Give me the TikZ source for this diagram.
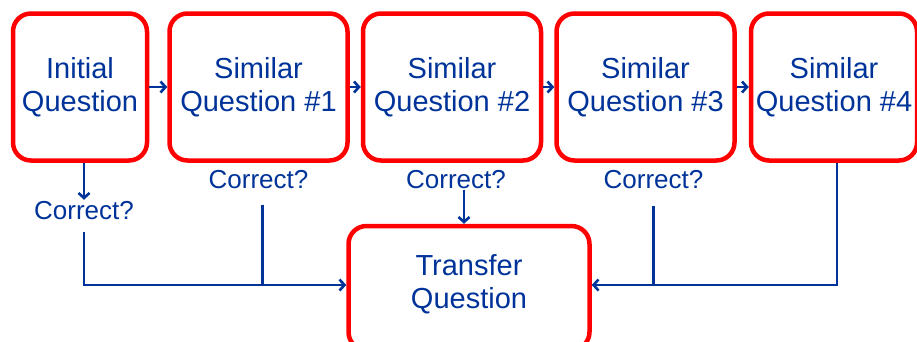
\documentclass[tikz,border=0pt]{standalone}
\usepackage{fontspec}
\setmainfont{Liberation Sans}
\usetikzlibrary{arrows.meta,positioning}
\definecolor{qred}{RGB}{255,0,0}
\definecolor{qblue}{RGB}{0,51,153}
\tikzset{
  qbox/.style={rectangle,rounded corners=18pt,draw=qred,line width=4.5pt,
    fill=white,minimum width=178pt,minimum height=147pt,
    font=\fontsize{29}{33}\selectfont,align=center,text=qblue,inner sep=2pt},
  lbl/.style={font=\fontsize{26}{30}\selectfont,text=qblue,inner sep=1pt},
  arr/.style={-{Straight Barb[length=5pt,width=11pt]},line width=2.6pt,color=qblue},
  ln/.style={line width=2.6pt,color=qblue},
}
\begin{document}
\begin{tikzpicture}[x=1pt,y=-1pt]
  \clip (0,0) rectangle (917,341);
  \fill[white] (0,0) rectangle (917,341);
  \node[qbox,minimum width=134pt] (init) at (80,87) {Initial\\Question};
  \node[qbox,right=18pt of init] (sim1) {Similar\\Question \#1};
  \node[qbox,right=11pt of sim1] (sim2) {Similar\\Question \#2};
  \node[qbox,right=11pt of sim2] (sim3) {Similar\\Question \#3};
  \node[qbox,right=12pt of sim3,minimum width=166pt] (sim4) {Similar\\Question \#4};
  \node[qbox,minimum width=241pt,minimum height=124pt] (trans) at (469,288)
    {Transfer\\Question\rule[-14pt]{0pt}{0pt}};

  \node[lbl,below=37pt of init,xshift=4pt] (ok0) {Correct?};
  \node[lbl,below=6pt of sim1] (ok1) {Correct?};
  \node[lbl,below=6pt of sim2,xshift=4pt] (ok2) {Correct?};
  \node[lbl,below=6pt of sim3,xshift=8pt] (ok3) {Correct?};

  \draw[arr] (init) -- (sim1);
  \draw[arr] (sim1) -- (sim2);
  \draw[arr] (sim2) -- (sim3);
  \draw[arr] (sim3) -- (sim4);
  \draw[arr] (init.south -| ok0.north) -- (ok0.north);
  \draw[arr,shorten <=11pt] (ok0.south) |- ([yshift=3pt]trans.west);
  \draw[ln,shorten <=15pt] ([xshift=4pt]ok1.south) -- ([xshift=4pt,yshift=3pt]ok1.south |- trans.west);
  \draw[arr] ([xshift=-5pt]ok2.south -| trans.north) -- ([xshift=-5pt]trans.north);
  \draw[ln,shorten <=16pt] (ok3.south) -- ([yshift=3pt]ok3.south |- trans.east);
  \draw[arr] ([xshift=3pt]sim4.south) |- ([yshift=3pt]trans.east);
\end{tikzpicture}
\end{document}
